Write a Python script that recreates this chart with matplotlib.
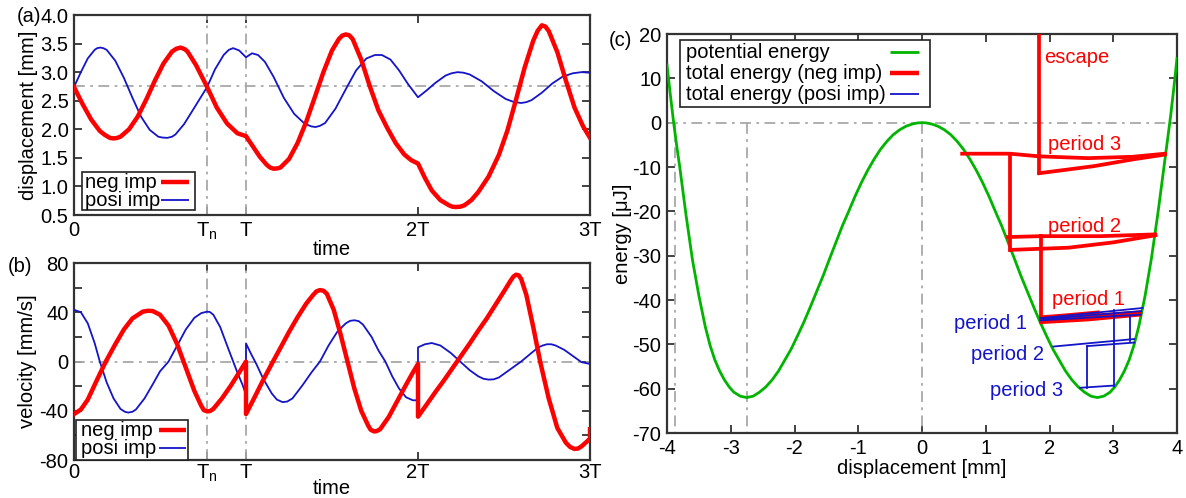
import numpy as np
import matplotlib
matplotlib.use("Agg")
import matplotlib.pyplot as plt
from matplotlib.patches import Rectangle
from matplotlib.lines import Line2D

plt.rcParams['font.family'] = ['Liberation Sans', 'DejaVu Sans']
plt.rcParams['font.size'] = 14.5
plt.rcParams['axes.unicode_minus'] = False
plt.rcParams['mathtext.fontset'] = 'custom'
plt.rcParams['mathtext.rm'] = 'Liberation Sans'
plt.rcParams['mathtext.it'] = 'Liberation Sans:italic'
plt.rcParams['lines.solid_joinstyle'] = 'round'

RED = '#ff0000'
BLUE = '#1414c8'
GREEN = '#00b400'
GRAY = '#a8a8a8'
FRAME = '#333333'
W, H = 1186, 498

# ---- (a) displacement vs time (time in units of T) ----
T_N = 0.774
t_neg_x = [0, 0.05, 0.10, 0.15, 0.18, 0.21, 0.23, 0.25, 0.27, 0.32, 0.37, 0.42, 0.47, 0.52,
           0.57, 0.595, 0.62, 0.645, 0.66, 0.71, 0.774, 0.83, 0.89, 0.95, 1.0, 1.04, 1.08,
           1.12, 1.14, 1.16, 1.18, 1.20, 1.25, 1.30, 1.35, 1.40, 1.45, 1.50, 1.54, 1.56, 1.58,
           1.60, 1.62, 1.67, 1.72, 1.77, 1.82, 1.87, 1.92, 1.96, 2.0, 2.04, 2.08, 2.13, 2.18,
           2.20, 2.22, 2.245, 2.27, 2.31, 2.35, 2.41, 2.47, 2.52, 2.57, 2.62, 2.67, 2.695, 2.72,
           2.74, 2.76, 2.81, 2.86, 2.91, 2.96, 3.0]
x_neg = [2.74, 2.44, 2.17, 1.97, 1.90, 1.848, 1.84, 1.848, 1.87, 2.00, 2.22, 2.52, 2.85, 3.15,
         3.36, 3.41, 3.43, 3.40, 3.36, 3.12, 2.74, 2.38, 2.10, 1.93, 1.88, 1.70, 1.52,
         1.38, 1.33, 1.31, 1.315, 1.33, 1.48, 1.76, 2.13, 2.56, 3.00, 3.38, 3.58, 3.64, 3.66,
         3.645, 3.58, 3.22, 2.75, 2.33, 2.03, 1.76, 1.56, 1.46, 1.40, 1.15, 0.93, 0.76, 0.67,
         0.645, 0.64, 0.645, 0.67, 0.76, 0.90, 1.17, 1.55, 1.98, 2.52, 3.08, 3.55, 3.72, 3.82,
         3.80, 3.72, 3.35, 2.85, 2.38, 2.05, 1.85]

t_pos_x = [0, 0.04, 0.08, 0.12, 0.135, 0.153, 0.17, 0.19, 0.24, 0.29, 0.34, 0.39, 0.44, 0.49,
           0.515, 0.543, 0.57, 0.59, 0.64, 0.70, 0.774, 0.82, 0.87, 0.90, 0.925, 0.96, 1.0,
           1.035, 1.07, 1.11, 1.16, 1.22, 1.28, 1.34, 1.38, 1.405, 1.43, 1.46, 1.52, 1.58,
           1.64, 1.70, 1.75, 1.79, 1.84, 1.89, 1.94, 2.0, 2.05, 2.10, 2.16, 2.195, 2.23, 2.265,
           2.30, 2.37, 2.44, 2.51, 2.555, 2.60, 2.63, 2.66, 2.72, 2.78, 2.84, 2.90, 2.95, 3.0]
x_pos = [2.74, 3.00, 3.24, 3.39, 3.42, 3.43, 3.42, 3.39, 3.20, 2.90, 2.55, 2.22, 1.99, 1.87,
         1.855, 1.85, 1.87, 1.91, 2.09, 2.38, 2.74, 3.05, 3.30, 3.39, 3.42, 3.38, 3.26,
         3.33, 3.30, 3.18, 2.92, 2.55, 2.27, 2.10, 2.05, 2.04, 2.06, 2.11, 2.36, 2.70,
         3.03, 3.24, 3.30, 3.30, 3.22, 3.03, 2.80, 2.56, 2.68, 2.81, 2.94, 2.98, 3.00, 2.99,
         2.96, 2.84, 2.67, 2.53, 2.48, 2.46, 2.475, 2.51, 2.64, 2.80, 2.92, 2.98, 3.00, 2.99]

# ---- (b) velocity vs time ----
t_neg_v = [0, 0.04, 0.08, 0.13, 0.185, 0.24, 0.29, 0.34, 0.40, 0.43, 0.457, 0.50, 0.55, 0.60,
           0.65, 0.70, 0.74, 0.755, 0.774, 0.79, 0.81, 0.86, 0.91, 0.96, 1.0, 1.0, 1.05, 1.10,
           1.157, 1.20, 1.25, 1.30, 1.35, 1.39, 1.41, 1.43, 1.45, 1.47, 1.51, 1.55, 1.59, 1.63,
           1.67, 1.71, 1.725, 1.745, 1.76, 1.78, 1.83, 1.88, 1.93, 1.97, 2.0, 2.0, 2.05, 2.10,
           2.15, 2.20, 2.25, 2.30, 2.35, 2.40, 2.45, 2.50, 2.54, 2.555, 2.57, 2.585, 2.60, 2.63,
           2.67, 2.71, 2.76, 2.81, 2.86, 2.885, 2.91, 2.93, 2.95, 2.99, 3.0, 3.0]
v_neg = [-42.7, -39, -31, -16, 0, 14, 26, 35, 40.5, 41.2, 41, 38, 29, 14,
         -5, -24, -36, -39.5, -40.5, -40.3, -38.5, -30, -20, -9, 0, -42.7, -29, -15,
         0, 11, 24, 36, 47, 54, 57, 58, 57.5, 55, 42, 22, 0, -22,
         -40, -52, -55.5, -56.8, -56.5, -55, -45, -32, -19, -9, -2, -44.8, -35, -25,
         -15.5, -5.5, 4.5, 14.5, 25, 35, 46, 57, 66, 69, 70.5, 70, 67, 54,
         28, 0, -30, -54, -66, -69.5, -71, -70.7, -69, -64, -63, -55]

t_pos_v = [0, 0.04, 0.08, 0.12, 0.15, 0.19, 0.23, 0.27, 0.295, 0.316, 0.34, 0.36, 0.41, 0.46,
           0.50, 0.55, 0.60, 0.65, 0.70, 0.74, 0.774, 0.79, 0.81, 0.85, 0.89, 0.92, 0.95, 0.98,
           1.0, 1.0, 1.03, 1.06, 1.10, 1.15, 1.18, 1.213, 1.24, 1.27, 1.33, 1.38, 1.43, 1.48,
           1.53, 1.58, 1.605, 1.63, 1.655, 1.68, 1.73, 1.77, 1.81, 1.85, 1.89, 1.93, 1.97, 2.0,
           2.0, 2.04, 2.08, 2.13, 2.19, 2.245, 2.30, 2.35, 2.38, 2.41, 2.44, 2.47, 2.54, 2.60,
           2.66, 2.70, 2.725, 2.75, 2.775, 2.80, 2.85, 2.90, 2.95, 3.0, 3.0]
v_pos = [42, 40, 31, 15, 0, -17, -30, -38.5, -40.8, -41.5, -40.8, -39, -30, -18,
         -8, 0, 13, 26, 35.5, 39.3, 40.5, 40.2, 38, 28, 13, 2, -9, -19,
         -27, 14.7, 6, -2, -14, -26, -31, -33, -32.5, -30, -19, -9, 0, 13,
         24, 31, 33, 33.5, 32.8, 30, 20, 9, 0, -12, -22, -29, -31.5, -31.5,
         11.5, 14, 15, 13, 7, 0, -7, -12, -14, -14.7, -14.5, -13, -6, 0,
         7, 11.5, 13, 14, 14, 13, 9.5, 4.5, -0.5, -2, 5]

# ---- (c) energy vs displacement ----
disp_pot = [-4.0, -3.95, -3.9, -3.85, -3.8, -3.7, -3.6, -3.5, -3.4, -3.325, -3.25, -3.175, -3.1,
            -3.025, -2.95, -2.85, -2.75, -2.65, -2.55, -2.45, -2.35, -2.25, -2.15, -2.05,
            -1.95, -1.85, -1.75, -1.65, -1.55, -1.45, -1.35, -1.25, -1.15, -1.05, -0.95,
            -0.85, -0.75, -0.65, -0.55, -0.45, -0.35, -0.25, -0.15, -0.07, 0.0,
            0.07, 0.15, 0.25, 0.35, 0.45, 0.55, 0.65, 0.75, 0.85, 0.95, 1.05, 1.15, 1.25,
            1.35, 1.45, 1.55, 1.65, 1.75, 1.85, 1.95, 2.05, 2.15, 2.25, 2.35, 2.45, 2.55,
            2.65, 2.75, 2.85, 2.95, 3.025, 3.1, 3.175, 3.25, 3.325, 3.4, 3.5, 3.6, 3.7, 3.8,
            3.85, 3.9, 3.95, 4.0]
e_pot = [13, 6.6, 0.5, -5, -10, -21, -31, -39, -46, -50.2, -53.5, -56, -58,
         -59.6, -60.8, -61.7, -62, -61.7, -60.8, -59.6, -58, -56, -53.5, -51,
         -48, -44.9, -41.5, -38, -34.5, -30.7, -27, -23.3, -20, -16.6, -13.5,
         -10.7, -8.2, -6.0, -4.2, -2.7, -1.6, -0.8, -0.3, -0.06, 0.0,
         -0.06, -0.3, -0.8, -1.6, -2.7, -4.2, -6.0, -8.2, -10.7, -13.5, -16.6, -20, -23.3,
         -27, -30.7, -34.5, -38, -41.5, -44.9, -48, -51, -53.5, -56, -58, -59.6, -60.8,
         -61.7, -62, -61.7, -60.8, -59.6, -58, -56, -53.5, -50.2, -46, -39, -30.5, -20.5, -9.5,
         -4, 1.5, 7.8, 14.5]

# total energy, negative impulse (red)
neg_p1a_x, neg_p1a_e = [1.87, 2.3, 2.76], [-43.9, -43.4, -42.8]
neg_p1b_x, neg_p1b_e = [1.87, 2.6, 3.42], [-45.0, -44.4, -43.3]
neg_p1c_x, neg_p1c_e = [1.87, 2.6, 3.42], [-44.4, -43.6, -42.8]
neg_jump2_x, neg_jump2_e = [1.87, 1.87], [-44.4, -25.5]
neg_p2a_x, neg_p2a_e = [1.35, 1.87, 2.8, 3.66], [-25.8, -25.6, -25.6, -25.2]
neg_p2b_x, neg_p2b_e = [1.39, 2.3, 3.0, 3.66], [-28.7, -28.2, -27.0, -25.4]
neg_jump3_x, neg_jump3_e = [1.38, 1.38], [-28.7, -7.0]
neg_p3a_x, neg_p3a_e = [0.63, 1.38, 1.84, 2.6, 3.3, 3.81], [-7.0, -7.0, -7.6, -8.0, -7.7, -7.0]
neg_p3b_x, neg_p3b_e = [1.84, 2.7, 3.3, 3.81], [-11.4, -9.8, -8.3, -7.2]
neg_esc_x, neg_esc_e = [1.84, 1.84], [-11.4, 25]

# total energy, positive impulse (blue)
pos_p1a_x, pos_p1a_e = [1.86, 3.46], [-44.1, -41.8]
pos_p1b_x, pos_p1b_e = [1.86, 3.43], [-44.6, -43.3]
pos_p1c_x, pos_p1c_e = [1.9, 3.44], [-44.3, -42.5]
pos_v1_x, pos_v1_e = [3.27, 3.27], [-43.5, -49.3]
pos_v2_x, pos_v2_e = [3.01, 3.01], [-42.2, -59.5]
pos_p2a_x, pos_p2a_e = [2.06, 3.33], [-50.5, -48.8]
pos_p2b_x, pos_p2b_e = [2.59, 3.33], [-50.4, -49.6]
pos_v3_x, pos_v3_e = [2.59, 2.59], [-50.4, -59.8]
pos_p3_x, pos_p3_e = [2.48, 3.01], [-59.8, -59.3]

time_ticks = [0, T_N, 1, 2, 3]
time_labels = ['0', r'T$_\mathrm{n}$', 'T', '2T', '3T']

DASHDOT = (0, (6, 3, 1.5, 3))


def style_axes(ax, xpad=4):
    for sp in ax.spines.values():
        sp.set_linewidth(1.6)
        sp.set_color(FRAME)
    ax.tick_params(direction='in', length=6, width=1.3, color=FRAME,
                   top=True, right=True, pad=4, labelsize=14.5)
    ax.tick_params(axis='x', pad=xpad)


def fx(px):
    return px / W


def fy(py):
    return 1 - py / H


# gnuplot-like key: text left, line sample on the right (positions in pixels)
def draw_key(box, rows, text_x, line_x):
    x0, y0, x1, y1 = box
    fig.add_artist(Rectangle((fx(x0), fy(y1)), (x1 - x0) / W, (y1 - y0) / H,
                             transform=fig.transFigure, facecolor='white',
                             edgecolor='#222222', lw=1.2, zorder=10))
    for label, y, color, lw in rows:
        fig.text(fx(text_x), fy(y), label, va='center', ha='left', fontsize=14.5, zorder=11)
        fig.add_artist(Line2D([fx(line_x[0]), fx(line_x[1])], [fy(y), fy(y)], color=color,
                              lw=lw, transform=fig.transFigure, zorder=11,
                              solid_capstyle='butt'))


fig = plt.figure(figsize=(11.86, 4.98), dpi=100)

# (a)
ax1 = fig.add_axes([fx(74), fy(215), 516 / W, 200 / H])
ax1.axhline(2.75, color=GRAY, lw=1.3, ls=DASHDOT)
ax1.axvline(T_N, color=GRAY, lw=1.3, ls=DASHDOT)
ax1.axvline(1, color=GRAY, lw=1.3, ls=DASHDOT)
ax1.plot(t_pos_x, x_pos, color=BLUE, lw=1.3, zorder=3)
ax1.plot(t_neg_x, x_neg, color=RED, lw=3.2, zorder=4)
ax1.set_xlim(0, 3)
ax1.set_ylim(0.5, 4.0)
ax1.set_yticks(np.arange(0.5, 4.01, 0.5))
ax1.set_yticklabels(['%.1f' % v for v in np.arange(0.5, 4.01, 0.5)])
ax1.set_xticks(time_ticks)
ax1.set_xticklabels(time_labels)
ax1.set_ylabel('displacement [mm]', labelpad=2)
ax1.set_xlabel('time', labelpad=-1)
style_axes(ax1)
draw_key((82, 172, 195, 210), [('neg imp', 182, RED, 3.2), ('posi imp', 200, BLUE, 1.3)],
         85, (161, 189))
fig.text(fx(17), fy(16), '(a)', fontsize=14.5, va='center', ha='left')

# (b)
ax2 = fig.add_axes([fx(74), fy(460), 516 / W, 197 / H])
ax2.axhline(0, color=GRAY, lw=1.3, ls=DASHDOT)
ax2.axvline(T_N, color=GRAY, lw=1.3, ls=DASHDOT)
ax2.axvline(1, color=GRAY, lw=1.3, ls=DASHDOT)
ax2.plot(t_pos_v, v_pos, color=BLUE, lw=1.3, zorder=3)
ax2.plot(t_neg_v, v_neg, color=RED, lw=3.2, zorder=4)
ax2.set_xlim(0, 3)
ax2.set_ylim(-80, 80)
ax2.set_yticks(np.arange(-80, 81, 20))
ax2.set_yticklabels([str(v) if v % 40 == 0 else '' for v in range(-80, 81, 20)])
ax2.set_xticks(time_ticks)
ax2.set_xticklabels(time_labels)
ax2.set_ylabel('velocity [mm/s]', labelpad=2)
ax2.set_xlabel('time', labelpad=-4)
style_axes(ax2, xpad=2)
draw_key((76, 420, 188, 460), [('neg imp', 430, RED, 3.2), ('posi imp', 448, BLUE, 1.3)],
         81, (159, 186))
fig.text(fx(8), fy(267), '(b)', fontsize=14.5, va='center', ha='left')

# (c)
ax3 = fig.add_axes([fx(667), fy(433), 510 / W, 399 / H])
ax3.axhline(0, color=GRAY, lw=1.3, ls=DASHDOT)
for xv in [-3.88, -2.75, 0.0]:
    ax3.plot([xv, xv], [0, -70], color=GRAY, lw=1.3, ls=DASHDOT)
ax3.plot(disp_pot, e_pot, color=GREEN, lw=2.0, zorder=3)

neg_lines = [(neg_p1a_x, neg_p1a_e), (neg_p1b_x, neg_p1b_e), (neg_p1c_x, neg_p1c_e),
             (neg_jump2_x, neg_jump2_e), (neg_p2a_x, neg_p2a_e), (neg_p2b_x, neg_p2b_e),
             (neg_jump3_x, neg_jump3_e), (neg_p3a_x, neg_p3a_e), (neg_p3b_x, neg_p3b_e),
             (neg_esc_x, neg_esc_e)]
for xs, es in neg_lines:
    ax3.plot(xs, es, color=RED, lw=2.7, zorder=4)
pos_lines = [(pos_p1a_x, pos_p1a_e), (pos_p1b_x, pos_p1b_e), (pos_p1c_x, pos_p1c_e),
             (pos_v1_x, pos_v1_e), (pos_v2_x, pos_v2_e), (pos_p2a_x, pos_p2a_e),
             (pos_p2b_x, pos_p2b_e), (pos_v3_x, pos_v3_e), (pos_p3_x, pos_p3_e)]
for xs, es in pos_lines:
    ax3.plot(xs, es, color=BLUE, lw=1.3, zorder=5)

ax3.text(1.91, 14.6, 'escape', color=RED, fontsize=14.5, va='center', ha='left')
ax3.text(1.97, -4.9, 'period 3', color=RED, fontsize=14.5, va='center', ha='left')
ax3.text(1.98, -23.5, 'period 2', color=RED, fontsize=14.5, va='center', ha='left')
ax3.text(2.04, -39.8, 'period 1', color=RED, fontsize=14.5, va='center', ha='left')
ax3.text(1.64, -45.3, 'period 1', color=BLUE, fontsize=14.5, va='center', ha='right')
ax3.text(1.92, -52.3, 'period 2', color=BLUE, fontsize=14.5, va='center', ha='right')
ax3.text(2.21, -60.5, 'period 3', color=BLUE, fontsize=14.5, va='center', ha='right')

ax3.set_xlim(-4, 4)
ax3.set_ylim(-70, 20)
ax3.set_xticks(np.arange(-4, 5, 1))
ax3.set_yticks(np.arange(-70, 21, 10))
ax3.set_xlabel('displacement [mm]', labelpad=1)
ax3.set_ylabel('energy [\u03bcJ]', labelpad=0)
style_axes(ax3)
draw_key((680, 40, 930, 107),
         [('potential energy', 52, GREEN, 2.0),
          ('total energy (neg imp)', 73, RED, 3.2),
          ('total energy (posi imp)', 94, BLUE, 1.3)],
         686, (890, 919))
fig.text(fx(609), fy(40), '(c)', fontsize=14.5, va='center', ha='left')

fig.savefig('out.png', dpi=100)
